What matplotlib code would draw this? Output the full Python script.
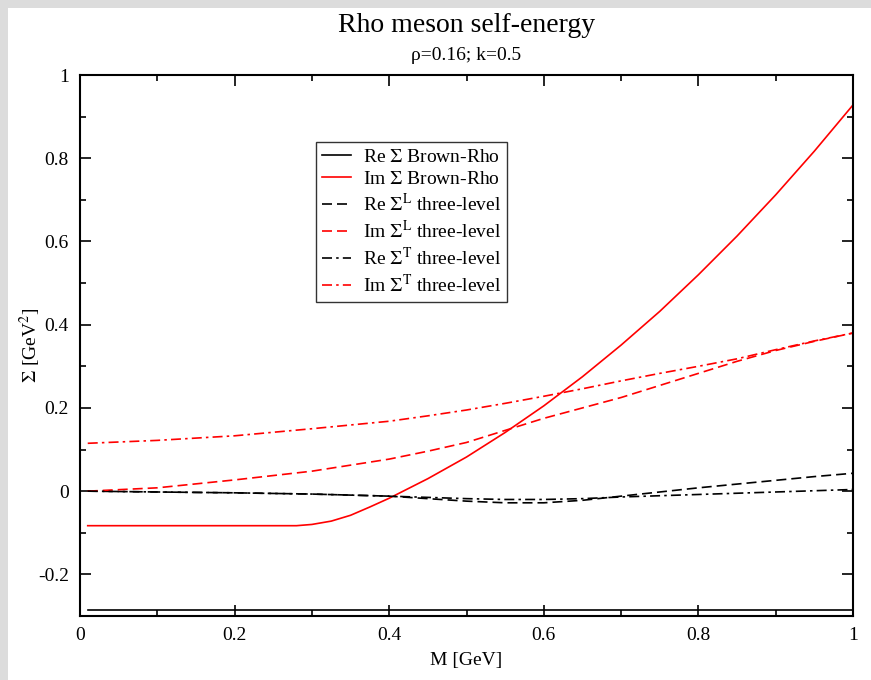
import matplotlib
matplotlib.use("Agg")
import matplotlib.pyplot as plt
from matplotlib.patches import Rectangle

plt.rcParams['font.family'] = ['Liberation Serif', 'DejaVu Serif']
plt.rcParams['mathtext.fontset'] = 'stix'

# Re Sigma Brown-Rho: constant over the whole mass range
m_re_br = [0.01, 1.0]
re_br = [-0.285, -0.285]

# Im Sigma Brown-Rho
m_im_br = [0.01, 0.1, 0.2, 0.28, 0.30, 0.325, 0.35, 0.375, 0.40, 0.45, 0.50,
           0.55, 0.60, 0.65, 0.70, 0.75, 0.80, 0.85, 0.90, 0.95, 1.0]
im_br = [-0.083, -0.083, -0.083, -0.083, -0.080, -0.072, -0.058, -0.038, -0.017,
         0.030, 0.082, 0.141, 0.205, 0.275, 0.351, 0.432, 0.520, 0.613, 0.712,
         0.817, 0.928]

# three-level model, common mass grid
m_tl = [0.01, 0.1, 0.2, 0.3, 0.4, 0.45, 0.5, 0.55, 0.6, 0.65, 0.7, 0.75,
        0.8, 0.85, 0.9, 0.95, 1.0]
re_l = [0.0, -0.002, -0.004, -0.007, -0.012, -0.018, -0.024, -0.028, -0.028,
        -0.022, -0.012, -0.002, 0.008, 0.017, 0.026, 0.035, 0.043]
im_l = [0.0, 0.008, 0.027, 0.048, 0.077, 0.096, 0.117, 0.146, 0.175, 0.200,
        0.225, 0.254, 0.283, 0.312, 0.338, 0.360, 0.380]
re_t = [0.0, -0.002, -0.004, -0.007, -0.012, -0.015, -0.018, -0.020, -0.020,
        -0.018, -0.014, -0.011, -0.008, -0.005, -0.002, 0.001, 0.004]
im_t = [0.115, 0.122, 0.133, 0.150, 0.168, 0.181, 0.195, 0.211, 0.228, 0.246,
        0.265, 0.283, 0.300, 0.318, 0.340, 0.361, 0.380]

fig = plt.figure(figsize=(8.71, 6.80), dpi=100)
fig.patch.set_facecolor('white')
# grey frame along top and left edge
fig.add_artist(Rectangle((0, 0), 8 / 871, 1, transform=fig.transFigure,
                         facecolor='#dcdcdc', edgecolor='none', zorder=-1))
fig.add_artist(Rectangle((0, 1 - 8 / 680), 1, 8 / 680, transform=fig.transFigure,
                         facecolor='#dcdcdc', edgecolor='none', zorder=-1))

ax = fig.add_axes([80 / 871, 1 - 616 / 680, 773 / 871, 541 / 680])

dash = (0, (6, 3))
dashdot = (0, (6, 2.5, 1.5, 2.5))
lw = 1.2
ax.plot(m_re_br, re_br, color='black', lw=lw, label=r'Re $\Sigma$ Brown-Rho')
ax.plot(m_im_br, im_br, color='red', lw=lw, label=r'Im $\Sigma$ Brown-Rho')
ax.plot(m_tl, re_l, color='black', lw=lw, ls=dash, label=r'Re $\Sigma^{\rm L}$ three-level')
ax.plot(m_tl, im_l, color='red', lw=lw, ls=dash, label=r'Im $\Sigma^{\rm L}$ three-level')
ax.plot(m_tl, re_t, color='black', lw=lw, ls=dashdot, label=r'Re $\Sigma^{\rm T}$ three-level')
ax.plot(m_tl, im_t, color='red', lw=lw, ls=dashdot, label=r'Im $\Sigma^{\rm T}$ three-level')

ax.set_xlim(0, 1)
ax.set_ylim(-0.3, 1)
ax.set_xticks([0, 0.2, 0.4, 0.6, 0.8, 1.0])
ax.set_xticklabels(['0', '0.2', '0.4', '0.6', '0.8', '1'])
ax.set_xticks([0.1, 0.3, 0.5, 0.7, 0.9], minor=True)
ax.set_yticks([-0.2, 0, 0.2, 0.4, 0.6, 0.8, 1.0])
ax.set_yticklabels(['-0.2', '0', '0.2', '0.4', '0.6', '0.8', '1'])
ax.set_yticks([-0.3, -0.1, 0.1, 0.3, 0.5, 0.7, 0.9], minor=True)
ax.tick_params(which='both', direction='in', top=True, right=True,
               labelsize=14, width=1.2, pad=8)
ax.tick_params(which='major', length=8)
ax.tick_params(which='minor', length=4)
for s in ax.spines.values():
    s.set_linewidth(1.5)

ax.set_xlabel('M [GeV]', fontsize=14, labelpad=6)
ax.set_ylabel(r'$\Sigma$ [GeV$^2$]', fontsize=14)
ax.yaxis.set_label_coords(-0.048, 0.5)

xc = 0.5 * (80 + 853) / 871
fig.text(xc, 1 - 26 / 680, 'Rho meson self-energy',
         ha='center', va='center', fontsize=20)
fig.text(xc, 1 - 55 / 680, 'ρ=0.16; k=0.5',
         ha='center', va='center', fontsize=14)

leg = ax.legend(loc='upper left', bbox_to_anchor=(0.305, 0.876), fontsize=14,
                frameon=True, fancybox=False, handlelength=1.5,
                borderpad=0.3, labelspacing=0.25, handletextpad=0.65,
                borderaxespad=0)
leg.get_frame().set_edgecolor('black')
leg.get_frame().set_linewidth(1.0)

fig.savefig('out.png', dpi=100)
